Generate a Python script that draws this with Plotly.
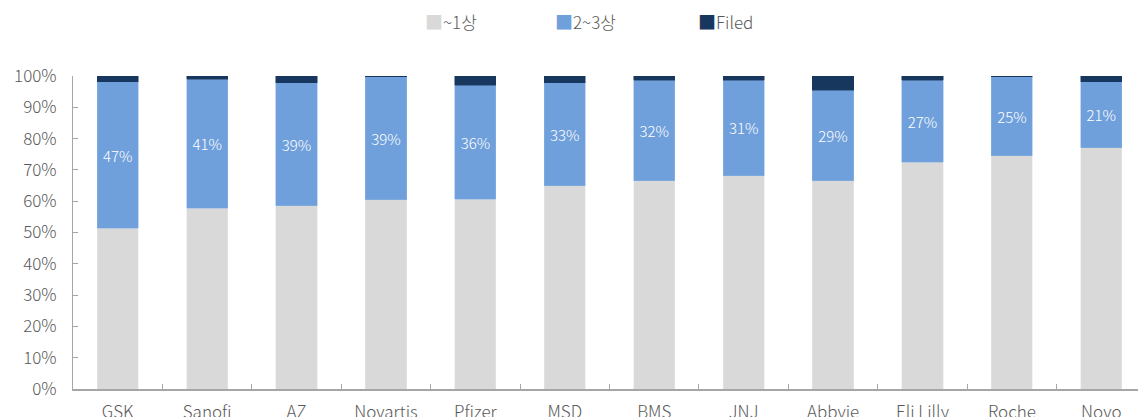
import plotly.graph_objects as go

companies = ["GSK", "Sanofi", "AZ", "Novartis", "Pfizer", "MSD", "BMS", "JNJ", "Abbvie", "Eli Lilly", "Roche", "Novo"]
phase1 = [51.4, 57.8, 58.5, 60.4, 60.7, 64.9, 66.6, 68.1, 66.6, 72.4, 74.6, 77.0]
phase23 = [46.7, 41.2, 39.3, 39.3, 36.4, 33.0, 32.1, 30.6, 28.9, 26.3, 25.1, 21.1]
filed = [1.9, 1.0, 2.2, 0.3, 2.9, 2.1, 1.3, 1.3, 4.5, 1.3, 0.3, 1.9]
labels23 = ["47%", "41%", "39%", "39%", "36%", "33%", "32%", "31%", "29%", "27%", "25%", "21%"]
series_names = ["~1상", "2~3상", "Filed"]
series_colors = ["#D9D9D9", "#6FA0DB", "#17375E"]

# page body adds an 8px offset, so the figure is sized/placed to compensate
W, H = 1138, 409
ML, MT, MB, MR = 65, 68, 28, 0
legend_px = [415, 545, 688]   # left edge of legend markers, figure pixels
legend_py = 13

font_family = "Noto Sans CJK KR, Noto Sans, sans-serif"
grey_txt = "#595959"

fig = go.Figure()
fig.add_trace(go.Bar(name=series_names[0], x=companies, y=[v / 100 for v in phase1],
                     marker=dict(color=series_colors[0], line=dict(color="#E8E8E8", width=0.5))))
fig.add_trace(go.Bar(name=series_names[1], x=companies, y=[v / 100 for v in phase23],
                     text=labels23, textposition="inside", insidetextanchor="middle",
                     textfont=dict(color="white", size=15, family=font_family, weight=300),
                     marker=dict(color=series_colors[1], line=dict(color="#8DB4E2", width=0.5))))
fig.add_trace(go.Bar(name=series_names[2], x=companies, y=[v / 100 for v in filed],
                     marker=dict(color=series_colors[2], line=dict(color="#17375E", width=0.5))))

pw = W - ML - MR
ph = H - MT - MB
for name, col, lx in zip(series_names, series_colors, legend_px):
    fig.add_annotation(
        x=(lx - ML) / pw, y=(H - MB - legend_py) / ph, xref="paper", yref="paper",
        showarrow=False, xanchor="left", yanchor="middle",
        text=f"<span style='color:{col};font-size:18px'>■</span>{name}",
        font=dict(size=17, color=grey_txt, family=font_family, weight=300),
    )

fig.update_layout(
    barmode="stack",
    bargap=0.54,
    width=W, height=H,
    margin=dict(l=ML, r=MR, t=MT, b=MB, autoexpand=False),
    plot_bgcolor="white", paper_bgcolor="white",
    font=dict(family=font_family, color=grey_txt, size=16, weight=300),
    showlegend=False,
)

fig.update_xaxes(showline=True, linecolor="#A6A6A6", linewidth=1.5, ticks="inside",
                 tickson="boundaries", ticklen=5, tickcolor="#A6A6A6",
                 ticklabelstandoff=7,
                 tickfont=dict(size=17, color=grey_txt), showgrid=False)
fig.update_yaxes(range=[0, 1], tickvals=[i / 10 for i in range(11)], tickformat=".0%",
                 showline=True, linecolor="#A6A6A6", linewidth=1, ticks="inside",
                 ticklen=5, tickcolor="#A6A6A6", showgrid=False,
                 ticklabelstandoff=12,
                 tickfont=dict(size=17, color=grey_txt))

fig.write_html("out.html")
